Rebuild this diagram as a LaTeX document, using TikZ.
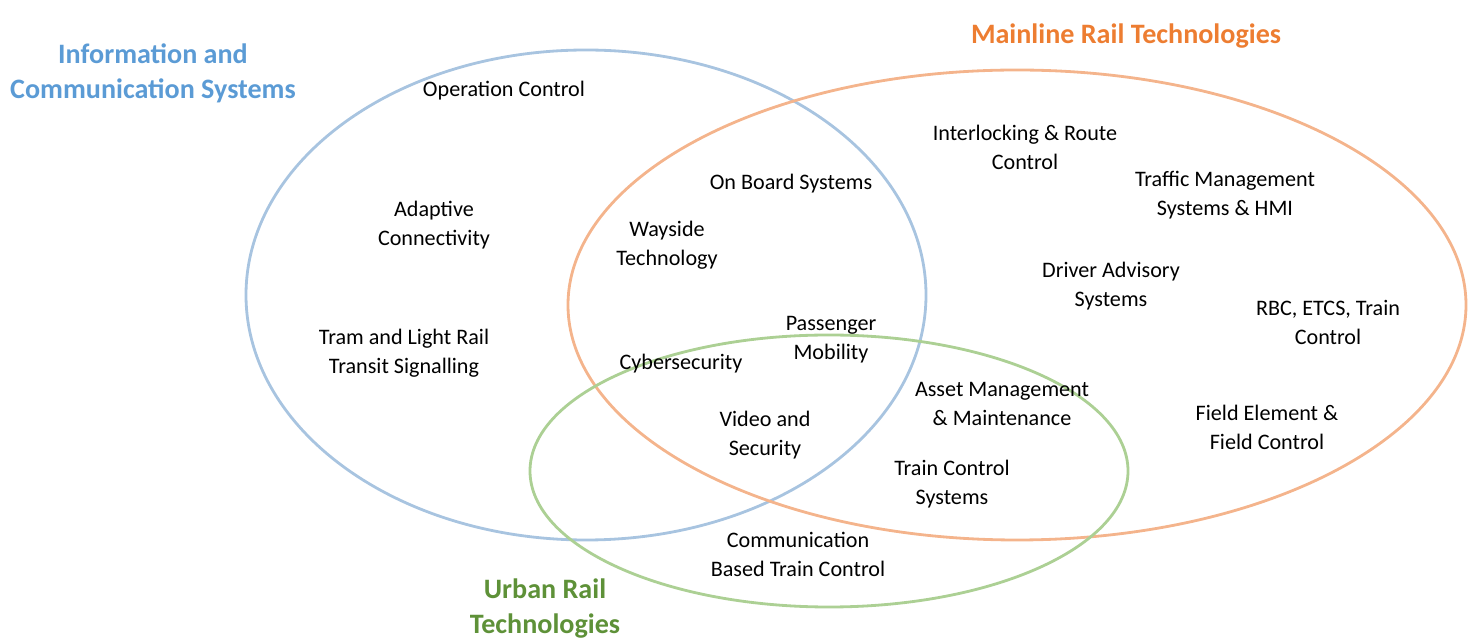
\documentclass[tikz,border=0pt]{standalone}
\usepackage{fontspec}
\setmainfont{Carlito}
\usepackage{tikz}
\usepackage{xcolor}

\begin{document}
\begin{tikzpicture}[x=0.02cm, y=-0.02cm]
        % Define colors
        \definecolor{infocolor}{RGB}{91, 155, 213}     % Blue
        \definecolor{infoline}{RGB}{168, 196, 224}     % Light blue
        \definecolor{mainlinecolor}{RGB}{237, 125, 49} % Orange
        \definecolor{mainlineline}{RGB}{244, 180, 140} % Light orange
        \definecolor{urbancolor}{RGB}{94, 145, 56}     % Green
        \definecolor{urbanline}{RGB}{172, 208, 148}    % Light green

        \tikzset{
            setlabel/.style={font=\fontsize{16}{19.9}\selectfont\bfseries, align=center},
            itemlabel/.style={font=\fontsize{12.6}{16.5}\selectfont, align=center, black}
        }

        \useasboundingbox (0,0) rectangle (1475,641);

        % Draw the three sets
        \draw[infoline, line width=1.6pt] (586,295) ellipse (340 and 245);
        \draw[mainlineline, line width=1.6pt] (1017,305) ellipse (449 and 235);
        \draw[urbanline, line width=1.6pt] (829,471) ellipse (299 and 136);

        % Set titles
        \node[setlabel, text=infocolor] (info) at (153,73) {Information and\\Communication Systems};
        \node[setlabel, text=mainlinecolor] (mainline) at (1126,36) {Mainline Rail Technologies};
        \node[setlabel, text=urbancolor] (urban) at (545,609) {Urban Rail\\Technologies};

        % Information and communication only
        \node[itemlabel] (opctrl) at (504,91) {Operation Control};
        \node[itemlabel] (adaptive) at (434,225) {Adaptive\\Connectivity};
        \node[itemlabel] (tram) at (404,353) {Tram and Light Rail\\Transit Signalling};

        % Information and mainline
        \node[itemlabel] (onboard) at (791,184) {On Board Systems};
        \node[itemlabel] (wayside) at (667,245) {Wayside\\Technology};

        % All three sets
        \node[itemlabel] (passenger) at (831,340) {Passenger\\Mobility};
        \node[itemlabel] (cyber) at (681,364) {Cybersecurity};
        \node[itemlabel] (video) at (765,435) {Video and\\Security};

        % Mainline only
        \node[itemlabel] (interlock) at (1025,147) {Interlocking \& Route\\Control};
        \node[itemlabel] (traffic) at (1225,195) {Traffic Management\\Systems \& HMI};
        \node[itemlabel] (driver) at (1111,286) {Driver Advisory\\Systems};
        \node[itemlabel] (rbc) at (1328,322) {RBC, ETCS, Train\\Control};
        \node[itemlabel] (field) at (1267,427) {Field Element \&\\Field Control};

        % Mainline and urban
        \node[itemlabel] (asset) at (1002,404) {Asset Management\\\& Maintenance};
        \node[itemlabel] (trainctrl) at (952,484) {Train Control\\Systems};

        % Urban only
        \node[itemlabel] (cbtc) at (798,554) {Communication\\Based Train Control};

\end{tikzpicture}
\end{document}
